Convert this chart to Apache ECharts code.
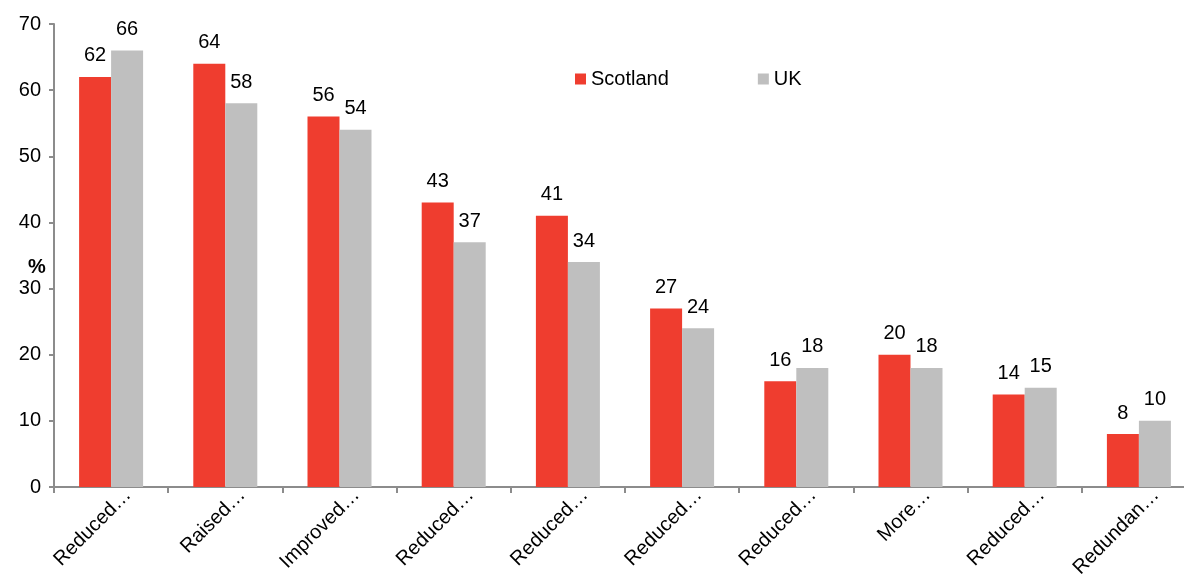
<!DOCTYPE html>
<html>
<head>
<meta charset="utf-8">
<script src="https://cdn.jsdelivr.net/npm/echarts@6/dist/echarts.min.js"></script>
<style>html,body{margin:0;padding:0;background:#fff;}#c{width:1184px;height:577px;}</style>
</head>
<body>
<div id="c"></div>
<script>
const categories = ['Reduced…','Raised…','Improved…','Reduced…','Reduced…','Reduced…','Reduced…','More…','Reduced…','Redundan…'];
const scotland = [62, 64, 56, 43, 41, 27, 16, 20, 14, 8];
const uk = [66, 58, 54, 37, 34, 24, 18, 18, 15, 10];
const seriesNames = ['Scotland', 'UK'];
const yUnit = '%';

const font = 'Liberation Sans, Arial, sans-serif';
const chart = echarts.init(document.getElementById('c'));
const lbl = {show: true, position: 'top', distance: 11, color: '#000', fontSize: 20, fontFamily: font};
chart.setOption({
  animation: false,
  textStyle: {fontFamily: font},
  legend: {
    left: 570, top: 64, icon: 'rect', itemWidth: 11, itemHeight: 11, itemGap: 89,
    textStyle: {fontSize: 20, color: '#000', fontFamily: font},
    data: seriesNames
  },
  graphic: [{
    type: 'text', left: 28, top: 257,
    style: {text: yUnit, font: 'bold 20px ' + font, fill: '#000'}
  }],
  grid: [
    {left: 54, top: 24, width: 1142, bottom: 90, outerBoundsMode: 'none', containLabel: false},
    {left: 71, top: 24, width: 1142, bottom: 90, outerBoundsMode: 'none', containLabel: false}
  ],
  xAxis: [
    {
      type: 'category', data: categories, gridIndex: 0,
      axisLine: {lineStyle: {color: '#8c8c8c', width: 2}},
      axisTick: {show: true, length: 6, lineStyle: {color: '#8c8c8c', width: 2}},
      axisLabel: {show: false}
    },
    {
      type: 'category', data: categories, gridIndex: 1,
      axisLine: {show: false}, axisTick: {show: false},
      axisLabel: {interval: 0, rotate: 45, margin: 5, fontSize: 20, color: '#000', fontFamily: font}
    }
  ],
  yAxis: [
    {
      type: 'value', min: 0, max: 70, interval: 10, gridIndex: 0,
      splitLine: {show: false},
      axisLine: {show: true, lineStyle: {color: '#8c8c8c', width: 2}},
      axisTick: {show: true, length: 5, lineStyle: {color: '#8c8c8c', width: 2}},
      axisLabel: {fontSize: 20, color: '#000', margin: 13, fontFamily: font}
    },
    {type: 'value', min: 0, max: 70, gridIndex: 1, show: false}
  ],
  series: [
    {name: seriesNames[0], type: 'bar', data: scotland, barWidth: 32, barGap: '0%', itemStyle: {color: '#EF3D2F'}, label: lbl},
    {name: seriesNames[1], type: 'bar', data: uk, barWidth: 32, barGap: '0%', itemStyle: {color: '#BFBFBF'}, label: lbl}
  ]
});
</script>
</body>
</html>
